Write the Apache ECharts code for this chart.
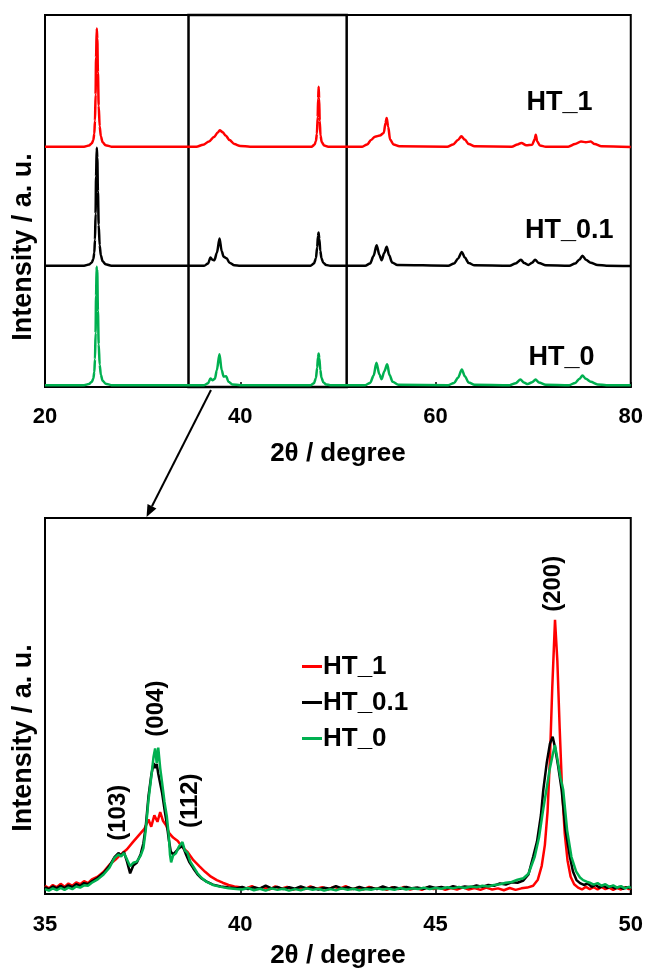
<!DOCTYPE html>
<html>
<head>
<meta charset="utf-8">
<script src="https://cdn.jsdelivr.net/npm/echarts@6/dist/echarts.min.js"></script>
<style>
  html, body { margin: 0; padding: 0; background: #fff; }
  #main { width: 646px; height: 971px; }
</style>
</head>
<body>
<div id="main"></div>
<script>
// XRD patterns, stacked with offsets (top) and zoomed 35-50 deg (bottom)
var FONT = '"Liberation Sans", Arial, sans-serif'

var topTicks = [20, 80, 20]      // min, max, interval
var zoomTicks = [35, 50, 5]
var zoomWindow = [34.7, 50.9]    // rectangle drawn on the top pattern
var arrowX = [37.0, 37.6]        // arrow: top-chart x -> bottom-chart x

// top panel, [2theta, intensity incl. offset]
var ht1Top = [[20,64.6],[24.0,64.6],[24.5,64.9],[24.8,65.5],[24.95,66.4],[25.05,68.1],[25.12,71.6],[25.18,78.6],[25.23,88.6],[25.3,96.4],[25.36,93.6],[25.42,84.6],[25.5,75.6],[25.6,70.1],[25.72,67.4],[25.9,65.8],[26.2,65.0],[26.8,64.6],
  [35.5,64.6],[36.2,65.1],[36.8,66],[37.3,67.2],[37.7,68.4],[37.9,69.0],[38.2,68.5],[38.5,67.6],[38.9,66.4],[39.4,65.3],[40.0,64.8],[41,64.6],
  [47.3,64.6],[47.6,65.1],[47.75,66.1],[47.85,68.1],[47.93,72.6],[47.98,77.6],[48.03,80.7],[48.08,77.6],[48.14,71.6],[48.22,67.6],[48.35,65.8],[48.6,64.9],[49,64.6],
  [52.5,64.6],[53.0,65.2],[53.4,66.4],[53.8,67.3],[54.3,67.6],[54.7,68.3],[54.88,71],[55.0,72.3],[55.15,70],[55.35,66.5],[55.7,65.2],[56.3,64.7],
  [61.2,64.6],[61.8,65.2],[62.3,66.4],[62.65,67.4],[63.0,66.5],[63.4,65.3],[64.0,64.7],
  [67.8,64.6],[68.4,65.2],[68.8,65.6],[69.3,65],[69.9,65.1],[70.15,66.5],[70.27,67.8],[70.42,66],[70.7,64.9],[71.3,64.6],
  [73.6,64.6],[74.3,65.3],[74.9,66.0],[75.4,65.8],[75.9,66.0],[76.3,65.3],[77,64.7],[80,64.5]]

var ht01Top = [[20,32.6],[24.0,32.6],[24.5,32.9],[24.8,33.5],[24.95,34.4],[25.05,36.1],[25.12,39.6],[25.18,46.6],[25.23,56.6],[25.3,64.3],[25.36,61.6],[25.42,52.6],[25.5,43.6],[25.6,38.1],[25.72,35.4],[25.9,33.8],[26.2,33.0],[26.8,32.6],
  [36.3,32.6],[36.7,33.2],[36.95,34.8],[37.15,34.2],[37.35,34.1],[37.6,36],[37.88,39.9],[38.1,36.5],[38.3,35],[38.6,34.6],[38.9,33.4],[39.4,32.7],[40,32.6],
  [47.2,32.6],[47.55,33.2],[47.75,34.6],[47.88,37.6],[47.96,40.6],[48.02,41.5],[48.1,39.8],[48.2,36.6],[48.32,34.6],[48.5,33.4],[48.8,32.8],[49.2,32.6],
  [52.8,32.6],[53.3,33.2],[53.65,35.2],[53.97,38.1],[54.25,35.5],[54.48,34.1],[54.75,36],[55.0,37.7],[55.25,35.4],[55.55,33.5],[56.1,32.8],
  [61.3,32.6],[61.9,33.2],[62.3,34.5],[62.7,36.3],[63.0,34.8],[63.4,33.3],[64,32.7],
  [67.6,32.6],[68.2,33.2],[68.75,34.2],[69.1,33.3],[69.5,32.8],[69.9,33.4],[70.2,34.2],[70.6,33.3],[71.3,32.7],
  [73.7,32.6],[74.3,33.2],[74.75,34.3],[75.05,35.3],[75.4,34.2],[75.9,33.4],[76.6,32.8],[77.5,32.6],[80,32.5]]

var ht0Top = [[20,0.5],[24.0,0.5],[24.5,0.8],[24.8,1.4],[24.95,2.3],[25.05,4.0],[25.12,7.5],[25.18,14.5],[25.23,24.5],[25.29,32.3],[25.32,30.0],[25.35,31.5],[25.42,20.5],[25.5,11.5],[25.6,6.0],[25.72,3.3],[25.9,1.7],[26.2,0.9],[26.8,0.5],
  [36.3,0.5],[36.7,1.0],[36.95,2.3],[37.15,1.8],[37.4,2.2],[37.6,4.5],[37.87,8.8],[38.1,4.5],[38.3,2.8],[38.55,2.9],[38.8,1.4],[39.2,0.7],[40,0.5],
  [47.2,0.5],[47.55,1.0],[47.75,2.4],[47.88,5.2],[47.96,7.9],[48.03,9.0],[48.1,7.7],[48.2,4.6],[48.32,2.5],[48.5,1.3],[48.8,0.7],[49.2,0.5],
  [52.8,0.5],[53.3,1.1],[53.65,3.0],[53.95,6.5],[54.25,3.4],[54.48,2.1],[54.75,4.2],[55.05,6.1],[55.3,3.2],[55.6,1.4],[56.2,0.6],
  [61.3,0.5],[61.9,1.1],[62.3,2.5],[62.7,4.7],[63.0,2.9],[63.4,1.2],[64,0.6],
  [67.6,0.5],[68.2,1.0],[68.7,2.0],[69.05,1.2],[69.45,0.8],[69.9,1.3],[70.25,2.0],[70.6,1.2],[71.3,0.6],
  [73.7,0.5],[74.3,1.1],[74.75,2.2],[75.05,3.1],[75.4,2.2],[75.9,1.4],[76.6,0.7],[77.5,0.5],[80,0.5]]

// bottom panel, 35-50 deg
var ht1Zoom = [[35,2.2],[35.1,1.5],[35.2,2.4],[35.3,1.8],[35.4,2.7],[35.5,1.9],[35.6,2.8],[35.7,2.2],[35.8,3.1],[35.9,2.6],[36.0,3.4],[36.1,2.9],[36.2,3.9],[36.35,4.6],[36.5,5.9],[36.65,7.8],[36.8,9.1],[36.95,10.6],[37.1,11.9],[37.25,13.8],[37.4,15.6],[37.55,17.4],[37.65,19.8],[37.72,17.9],[37.8,20.9],[37.88,19.2],[37.95,21.8],[38.02,19.5],[38.1,18.3],[38.18,16.2],[38.28,15.0],[38.4,14.1],[38.52,12.4],[38.65,11.2],[38.8,9.0],[38.95,7.4],[39.1,5.9],[39.25,4.6],[39.4,3.7],[39.55,3.0],[39.7,2.4],[39.85,2.0],[40.0,1.8],
  [40.15,1.5],[40.3,2.1],[40.45,1.3],[40.6,1.8],[40.75,1.2],[40.9,2.0],[41.05,1.4],[41.2,1.9],[41.35,1.1],[41.5,1.7],[41.65,1.3],[41.8,2.0],[41.95,1.4],[42.1,1.8],[42.25,1.2],[42.4,1.9],[42.55,1.4],[42.7,2.1],[42.85,1.3],[43.0,1.7],[43.15,1.2],[43.3,1.9],[43.45,1.4],[43.6,1.7],[43.75,1.1],[43.9,1.8],[44.05,1.3],[44.2,1.9],[44.35,1.2],[44.5,1.6],[44.65,1.1],[44.8,1.8],[44.95,1.3],[45.1,1.7],[45.25,1.1],[45.4,1.6],[45.55,1.2],[45.7,1.8],[45.85,1.2],[46.0,1.6],[46.15,1.1],[46.3,1.7],[46.45,1.2],[46.6,1.5],[46.75,1.0],[46.9,1.6],[47.05,1.1],[47.2,1.5],[47.35,1.7],
  [47.5,2.2],[47.62,3.8],[47.72,7.5],[47.8,13],[47.87,22],[47.93,36],[47.99,55],[48.06,72.9],[48.12,62],[48.18,44],[48.24,28],[48.31,16],[48.38,9],[48.46,4.6],[48.55,2.6],[48.65,1.7],[48.75,1.2],[48.85,1.9],[48.95,1.3],[49.05,1.8],[49.15,1.2],[49.25,1.9],[49.35,1.3],[49.45,1.7],[49.55,1.1],[49.65,1.6],[49.75,1.2],[49.85,1.8],[49.95,1.3],[50,1.5]]

var ht01Zoom = [[35,1.8],[35.1,1.3],[35.2,2.0],[35.3,1.5],[35.4,2.2],[35.5,1.6],[35.6,2.3],[35.7,1.8],[35.8,2.6],[35.9,2.1],[36.0,2.9],[36.1,2.6],[36.2,3.4],[36.35,4.3],[36.5,5.6],[36.65,7.5],[36.78,9.8],[36.88,10.9],[36.95,10.2],[37.02,11.2],[37.1,8.6],[37.18,5.5],[37.26,7.6],[37.35,8.3],[37.45,10.6],[37.52,13.5],[37.58,18],[37.65,26],[37.72,31.5],[37.78,34.8],[37.82,33.5],[37.86,34.6],[37.9,32],[37.95,29.4],[38.0,26.8],[38.06,22.5],[38.12,18.6],[38.17,14.5],[38.22,11.3],[38.28,10.5],[38.35,11.3],[38.43,12.2],[38.52,12.9],[38.6,10.8],[38.7,8.4],[38.8,6.8],[38.9,5.3],[39.0,4.2],[39.14,3.3],[39.3,2.5],[39.5,2.0],[39.7,1.7],[39.9,1.5],
  [40.05,1.9],[40.2,1.3],[40.35,1.8],[40.5,1.4],[40.65,2.2],[40.8,1.5],[40.95,1.9],[41.1,1.3],[41.25,1.8],[41.4,1.4],[41.55,2.0],[41.7,1.5],[41.85,1.8],[42.0,1.2],[42.15,1.7],[42.3,1.4],[42.45,2.1],[42.6,1.5],[42.75,1.8],[42.9,1.3],[43.05,1.9],[43.2,1.4],[43.35,1.7],[43.5,1.3],[43.65,2.0],[43.8,1.5],[43.95,1.8],[44.1,1.4],[44.25,1.9],[44.4,1.5],[44.55,1.7],[44.7,1.4],[44.85,2.0],[45.0,1.6],[45.15,1.9],[45.3,1.5],[45.45,2.1],[45.6,1.7],[45.75,2.0],[45.9,1.8],[46.05,2.3],[46.2,1.9],[46.35,2.4],[46.5,2.2],[46.65,2.8],[46.8,2.5],[46.95,3.1],[47.1,3.0],[47.25,3.6],
  [47.38,5.2],[47.5,9.9],[47.6,14],[47.7,21],[47.76,27.7],[47.85,35],[47.93,40],[48.0,41.8],[48.06,39],[48.14,34],[48.23,27.7],[48.33,17],[48.44,9.9],[48.52,6],[48.61,3.7],[48.7,2.9],[48.8,2.4],[48.9,2.8],[49.0,1.9],[49.1,2.4],[49.2,1.7],[49.3,2.2],[49.4,1.6],[49.5,2.1],[49.6,1.5],[49.7,1.9],[49.8,1.4],[49.9,1.8],[50,1.5]]

var ht0Zoom = [[35,1.3],[35.1,0.9],[35.2,1.5],[35.3,1.0],[35.4,1.6],[35.5,1.1],[35.6,1.7],[35.7,1.3],[35.8,2.0],[35.9,1.7],[36.0,2.3],[36.1,2.2],[36.2,3.0],[36.35,3.9],[36.5,5.2],[36.65,7.0],[36.78,9.6],[36.88,10.5],[36.95,10.0],[37.02,10.9],[37.1,9.2],[37.18,7.4],[37.26,8.3],[37.35,8.6],[37.45,10.2],[37.52,12.2],[37.58,17],[37.65,25],[37.72,31],[37.78,36.5],[37.82,38.7],[37.86,34.8],[37.9,38.9],[37.95,33.5],[38.0,29.5],[38.06,24.5],[38.12,20.6],[38.17,15.5],[38.2,10.5],[38.23,8.4],[38.28,10.2],[38.35,10.8],[38.43,12.6],[38.52,13.8],[38.58,11.6],[38.65,10.9],[38.72,8.6],[38.8,7.3],[38.9,5.6],[39.0,4.4],[39.14,3.2],[39.3,2.4],[39.5,1.9],[39.7,1.5],[39.9,1.3],
  [40.05,1.2],[40.2,1.6],[40.35,1.0],[40.5,1.4],[40.65,0.9],[40.8,1.5],[40.95,1.1],[41.1,1.4],[41.25,0.9],[41.4,1.3],[41.55,1.0],[41.7,1.5],[41.85,1.1],[42.0,1.4],[42.15,0.9],[42.3,1.3],[42.45,1.0],[42.6,1.5],[42.75,1.1],[42.9,1.4],[43.05,1.0],[43.2,1.3],[43.35,1.1],[43.5,1.5],[43.65,1.2],[43.8,1.4],[43.95,1.1],[44.1,1.6],[44.25,1.2],[44.4,1.5],[44.55,1.3],[44.7,1.7],[44.85,1.3],[45.0,1.6],[45.15,1.4],[45.3,1.8],[45.45,1.5],[45.6,1.9],[45.75,1.6],[45.9,2.0],[46.05,1.8],[46.2,2.2],[46.35,2.0],[46.5,2.4],[46.65,2.6],[46.8,3.0],[46.95,3.2],[47.1,3.8],[47.25,4.2],
  [47.38,5.4],[47.54,9.9],[47.65,15],[47.75,22],[47.84,27.7],[47.92,33],[48.0,37],[48.06,39.6],[48.12,36],[48.2,31],[48.27,27.7],[48.37,17],[48.48,9.9],[48.6,6],[48.7,4.4],[48.78,3.7],[48.87,3.3],[48.95,3.0],[49.05,2.5],[49.15,2.9],[49.25,2.2],[49.35,2.6],[49.45,1.9],[49.55,2.3],[49.65,1.7],[49.75,2.1],[49.85,1.5],[49.95,1.9],[50,1.6]]

var sampleNames = ['HT_1', 'HT_0.1', 'HT_0']
var colors = ['#ff0000', '#000000', '#00b050']
// where the sample names sit in the top panel, [2theta, y]
var nameSpots = [[72.7, 76.5], [73.7, 42.0], [72.9, 8.0]]
// Miller indices in the bottom panel: label, [2theta, y]
var hklLabels = ['(103)', '(004)', '(112)', '(200)']
var hklSpots = [[36.88, 21.6], [37.86, 49.3], [38.71, 24.8], [48.01, 82.5]]

var chart = echarts.init(document.getElementById('main'))

function axisX(grid, t, nameGap, labelMargin) {
  return {
    gridIndex: grid, type: 'value', min: t[0], max: t[1], interval: t[2],
    axisLine: { show: true, lineStyle: { color: '#000', width: 2 } },
    axisTick: { show: true, inside: true, length: 5, lineStyle: { color: '#000', width: 1.5 } },
    axisLabel: { margin: labelMargin, color: '#000', fontSize: 22, fontWeight: 'bold', fontFamily: FONT },
    splitLine: { show: false },
    name: '2θ / degree', nameLocation: 'middle', nameGap: nameGap,
    nameTextStyle: { color: '#000', fontSize: 26, fontWeight: 'bold', fontFamily: FONT }
  }
}
function axisY(grid) {
  return {
    gridIndex: grid, type: 'value', min: 0, max: 100,
    axisLine: { show: true, lineStyle: { color: '#000', width: 2 } },
    axisTick: { show: false }, axisLabel: { show: false }, splitLine: { show: false }
  }
}

var topData = [ht1Top, ht01Top, ht0Top]
var zoomData = [ht1Zoom, ht01Zoom, ht0Zoom]
var series = []
topData.forEach(function (d, i) {
  var s = {
    name: sampleNames[i], type: 'line', xAxisIndex: 0, yAxisIndex: 0,
    data: d, showSymbol: false, symbol: 'none', smooth: 0.3, smoothMonotone: 'x',
    lineStyle: { color: colors[i], width: 2.5 }, itemStyle: { color: colors[i] },
    markPoint: {
      silent: true, symbol: 'rect', symbolSize: 1, itemStyle: { color: 'rgba(0,0,0,0)' },
      label: { show: true, position: 'inside', formatter: '{b}', color: '#000', fontSize: 27, fontWeight: 'bold', fontFamily: FONT },
      data: [{ name: sampleNames[i], coord: nameSpots[i] }]
    }
  }
  if (i === 0) {
    s.markArea = {
      silent: true,
      itemStyle: { color: 'rgba(0,0,0,0)', borderColor: '#000', borderWidth: 2.5 },
      data: [[{ xAxis: zoomWindow[0], yAxis: 0 }, { xAxis: zoomWindow[1], yAxis: 100 }]]
    }
  }
  series.push(s)
})
zoomData.forEach(function (d, i) {
  var s = {
    name: sampleNames[i], type: 'line', xAxisIndex: 1, yAxisIndex: 1,
    data: d, showSymbol: false, symbol: 'none',
    lineStyle: { color: colors[i], width: 2.5 }, itemStyle: { color: colors[i] }
  }
  if (i === 2) {
    s.markPoint = {
      silent: true, symbol: 'rect', symbolSize: 1, itemStyle: { color: 'rgba(0,0,0,0)' },
      label: { show: true, position: 'inside', rotate: 90, formatter: '{b}', color: '#000', fontSize: 24, fontWeight: 'bold', fontFamily: FONT },
      data: hklLabels.map(function (h, k) { return { name: h, coord: hklSpots[k] } })
    }
  }
  series.push(s)
})

var option = {
  animation: false,
  backgroundColor: '#fff',
  grid: [
    { left: 45, top: 15, width: 588, height: 372, show: true, borderColor: '#000', borderWidth: 2 },
    { left: 45, top: 518, width: 587, height: 376, show: true, borderColor: '#000', borderWidth: 2 }
  ],
  xAxis: [axisX(0, topTicks, 54, 19), axisX(1, zoomTicks, 49, 20)],
  yAxis: [axisY(0), axisY(1)],
  legend: {
    data: sampleNames, orient: 'vertical', left: 297, top: 648,
    icon: 'rect', itemWidth: 20, itemHeight: 3, itemGap: 9, selectedMode: false,
    textStyle: { color: '#000', fontSize: 26, fontWeight: 'bold', fontFamily: FONT, lineHeight: 27, padding: [0, 0, 0, -4] }
  },
  series: series
}
chart.setOption(option)

// axis titles and the arrow linking the box to the zoomed panel
var p0 = chart.convertToPixel({ gridIndex: 0 }, [arrowX[0], 0])
var p1 = chart.convertToPixel({ gridIndex: 1 }, [arrowX[1], 100])
var sx = p0[0], sy = p0[1] + 3, ex = p1[0], ey = p1[1] - 1
var len = Math.sqrt((ex - sx) * (ex - sx) + (ey - sy) * (ey - sy))
var ux = (ex - sx) / len, uy = (ey - sy) / len
var bx = ex - ux * 12, by = ey - uy * 12
var nx = -uy * 5, ny = ux * 5

function yTitle(y) {
  return {
    type: 'text', x: 24, y: y, rotation: Math.PI / 2,
    style: { text: 'Intensity / a. u.', fill: '#000', font: 'bold 27px ' + FONT, textAlign: 'center', textVerticalAlign: 'middle' }
  }
}
chart.setOption({
  graphic: [
    yTitle(247), yTitle(738),
    { type: 'line', shape: { x1: sx, y1: sy, x2: bx, y2: by }, style: { stroke: '#000', lineWidth: 2 } },
    { type: 'polygon', shape: { points: [[ex, ey], [bx + nx, by + ny], [bx - nx, by - ny]] }, style: { fill: '#000' } }
  ]
})
</script>
</body>
</html>
